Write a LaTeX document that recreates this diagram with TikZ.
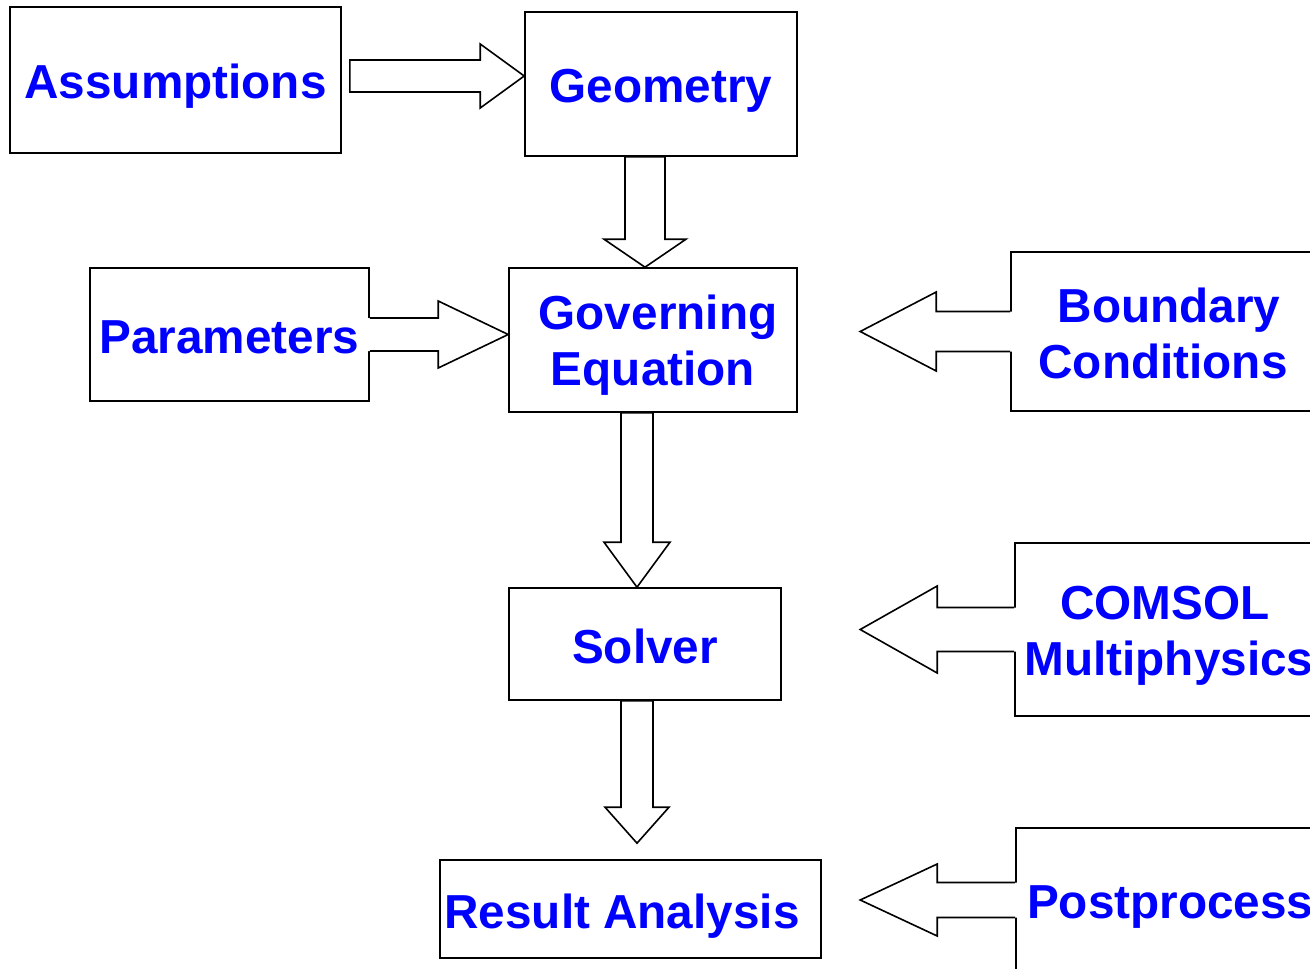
\documentclass[tikz,border=0pt]{standalone}
\usepackage{fontspec}
\setmainfont{Liberation Sans}
\usetikzlibrary{calc}
\tikzset{
  box/.style={draw=black, line width=1.6pt, fill=white, inner sep=0pt, align=center,
    font=\bfseries\fontsize{47.7}{56}\selectfont, text=blue},
  fatarr/.style={draw=black, line width=1.6pt, fill=white, line join=miter},
}
\newcommand{\Strut}[1]{\rule{0pt}{#1pt}}
% #1 start, #2 tip, #3 shaft half width, #4 head half width, #5 head length
\newcommand{\FatArrowClosed}[5]{%
  \coordinate (fab) at ($(#2)!#5!(#1)$);
  \filldraw[fatarr] ($(#1)!#3!90:(#2)$) -- ($(fab)!#3!90:(#2)$) -- ($(fab)!#4!90:(#2)$) -- (#2)
    -- ($(fab)!#4!-90:(#2)$) -- ($(fab)!#3!-90:(#2)$) -- ($(#1)!#3!-90:(#2)$) -- cycle;}
\newcommand{\FatArrowOpen}[5]{%
  \coordinate (fab) at ($(#2)!#5!(#1)$);
  \coordinate (fae) at ($(#1)!-3pt!(#2)$);
  \fill[white] ($(fae)!#3!90:(#2)$) -- ($(fab)!#3!90:(#2)$) -- ($(fab)!#4!90:(#2)$) -- (#2)
    -- ($(fab)!#4!-90:(#2)$) -- ($(fab)!#3!-90:(#2)$) -- ($(fae)!#3!-90:(#2)$) -- cycle;
  \draw[fatarr, fill=none] ($(#1)!#3!90:(#2)$) -- ($(fab)!#3!90:(#2)$) -- ($(fab)!#4!90:(#2)$) -- (#2)
    -- ($(fab)!#4!-90:(#2)$) -- ($(fab)!#3!-90:(#2)$) -- ($(#1)!#3!-90:(#2)$);}
\begin{document}
\begin{tikzpicture}[x=1pt,y=-1pt]
\useasboundingbox (0,0) rectangle (1310,969);
\clip (0,0) rectangle (1310,969);
\fill[white] (0,0) rectangle (1310,969);

\node[box, minimum width=331pt, minimum height=146pt] (assump) at (175.5,80) {\Strut{47}Assumptions};
\node[box, minimum width=272pt, minimum height=144pt] (geom) at (661,84) {\Strut{47}Geometry};
\node[box, minimum width=279pt, minimum height=133pt] (param) at (229.5,334.5) {\Strut{39}Parameters};
\node[box, minimum width=288pt, minimum height=144pt] (gov) at (653,340) {\Strut{45}\hspace*{10pt}Governing\\Equation};
\node[box, minimum width=304pt, minimum height=159pt] (bc) at (1163,331.5) {\Strut{39}\hspace*{12pt}Boundary\\Conditions};
\node[box, minimum width=272pt, minimum height=112pt] (solver) at (645,644) {\Strut{39}Solver};
\node[box, minimum width=300pt, minimum height=173pt] (comsol) at (1165,629.5) {\Strut{45}COMSOL\\\hspace*{8pt}Multiphysics};
\node[box, minimum width=381pt, minimum height=98pt] (result) at (630.5,909) {\Strut{49}\hspace*{-17pt}Result Analysis};
\node[box, minimum width=380pt, minimum height=148pt] (post) at (1206,902) {\Strut{43}Postprocessing};

\coordinate (a1s) at ($(assump.east)+(8,-4)$);
\coordinate (a1t) at ($(geom.west)+(0,-8)$);
\coordinate (a2s) at ($(geom.south)+(-16,0)$);
\coordinate (a2t) at ($(gov.north)+(-8,0)$);
\coordinate (a3s) at (param.east);
\coordinate (a3t) at (gov.west |- param.east);
\coordinate (a4s) at (bc.west);
\coordinate (a4t) at ($(bc.west)+(-150,0)$);
\coordinate (a5s) at ($(gov.south)+(-16,0)$);
\coordinate (a5t) at ($(solver.north)+(-8,0)$);
\coordinate (a6s) at (comsol.west);
\coordinate (a6t) at ($(comsol.west)+(-154,0)$);
\coordinate (a7s) at ($(solver.south)+(-8,0)$);
\coordinate (a7t) at ($(result.north)+(6.5,-16)$);
\coordinate (a8s) at ($(post.west)+(0,-2)$);
\coordinate (a8t) at ($(post.west)+(-155,-2)$);

\FatArrowClosed{a1s}{a1t}{16pt}{32pt}{44pt}
\FatArrowClosed{a2s}{a2t}{20pt}{41pt}{28pt}
\FatArrowOpen{a3s}{a3t}{16.5pt}{33.5pt}{70pt}
\FatArrowOpen{a4s}{a4t}{20pt}{39.5pt}{76pt}
\FatArrowClosed{a5s}{a5t}{16pt}{33pt}{45pt}
\FatArrowOpen{a6s}{a6t}{22pt}{43.5pt}{77pt}
\FatArrowClosed{a7s}{a7t}{16pt}{32pt}{36pt}
\FatArrowOpen{a8s}{a8t}{17.5pt}{36pt}{77pt}
\end{tikzpicture}
\end{document}
